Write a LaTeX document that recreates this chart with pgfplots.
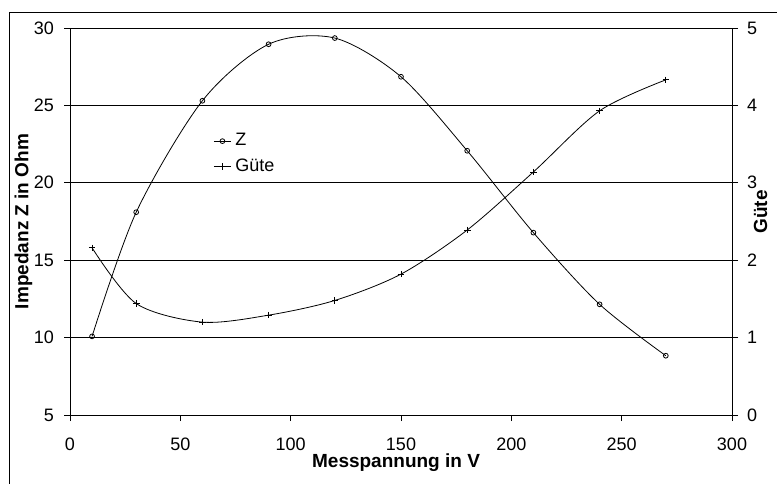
\documentclass[border=0pt]{standalone}
\usepackage{pgfplots}
\pgfplotsset{compat=1.18}
\usepackage{fontspec}
\setmainfont{Liberation Sans}
\begin{document}
\fontsize{18bp}{21bp}\selectfont
\begin{tikzpicture}
\useasboundingbox (0,0) rectangle (777bp,484bp);
\draw[line width=0.8bp] (9bp,0) -- (9bp,472bp) -- (777bp,472bp);
\pgfplotsset{
  common/.style={
    at={(70bp,69bp)}, anchor=south west,
    scale only axis, width=662bp, height=387bp,
    xmin=0, xmax=300,
    tick align=outside, major tick length=6bp,
    tick style={black, line width=0.8bp},
    axis line style={black, line width=0.8bp},
    /pgf/number format/assume math mode=true,
    ticklabel style={font=\fontsize{18bp}{21bp}\selectfont},
    every axis label/.style={font=\fontsize{19bp}{22bp}\selectfont\bfseries},
  },
  zstyle/.style={black, line width=0.8bp, mark=o, mark size=2.4bp, mark options={fill=white, solid}},
  gstyle/.style={black, line width=0.8bp, mark=+, mark size=3.3bp, mark options={solid}},
}
\begin{axis}[
  common,
  ymin=5, ymax=30,
  xtick={0,50,...,300}, ytick={5,10,...,30},
  axis x line*=bottom, axis y line*=left,
  ymajorgrids, major grid style={black, line width=0.8bp},
  xticklabel style={yshift=-11bp},
  yticklabel style={xshift=-4bp},
  xlabel={Messpannung in V},
  ylabel={Impedanz Z in Ohm},
  every axis x label/.style={at={(axis description cs:0.4925,-0.124)}, anchor=center},
  every axis y label/.style={at={(axis description cs:-0.0702,0.5)}, anchor=center, rotate=90},
]
\addplot[zstyle, smooth, tension=0.5] coordinates {
(10,10.08) (30,18.1) (60,25.3) (90,28.95) (120,29.35) (150,26.85) (180,22.07) (210,16.78) (240,12.15) (270,8.83)
};
\end{axis}
\begin{axis}[
  common,
  ymin=0, ymax=5, ytick={0,1,...,5},
  axis y line*=right, axis x line=none,
  yticklabel style={xshift=3bp},
  ylabel={Güte},
  every axis y label/.style={at={(axis description cs:1.043,0.525)}, anchor=center, rotate=90},
  legend style={draw=none, fill=none, at={(0.212,0.675)}, anchor=west,
    font=\fontsize{18bp}{21bp}\selectfont, row sep=6bp,
    /tikz/every odd column/.append style={column sep=2bp}},
  legend cell align=left,
]
\addlegendimage{zstyle}
\addlegendentry{Z}
\addplot[gstyle, smooth, tension=0.5] coordinates {
(10,2.16) (30,1.44) (60,1.20) (90,1.29) (120,1.48) (150,1.82) (180,2.39) (210,3.14) (240,3.93) (270,4.33)
};
\addlegendentry{Güte}
\end{axis}
\end{tikzpicture}
\end{document}
